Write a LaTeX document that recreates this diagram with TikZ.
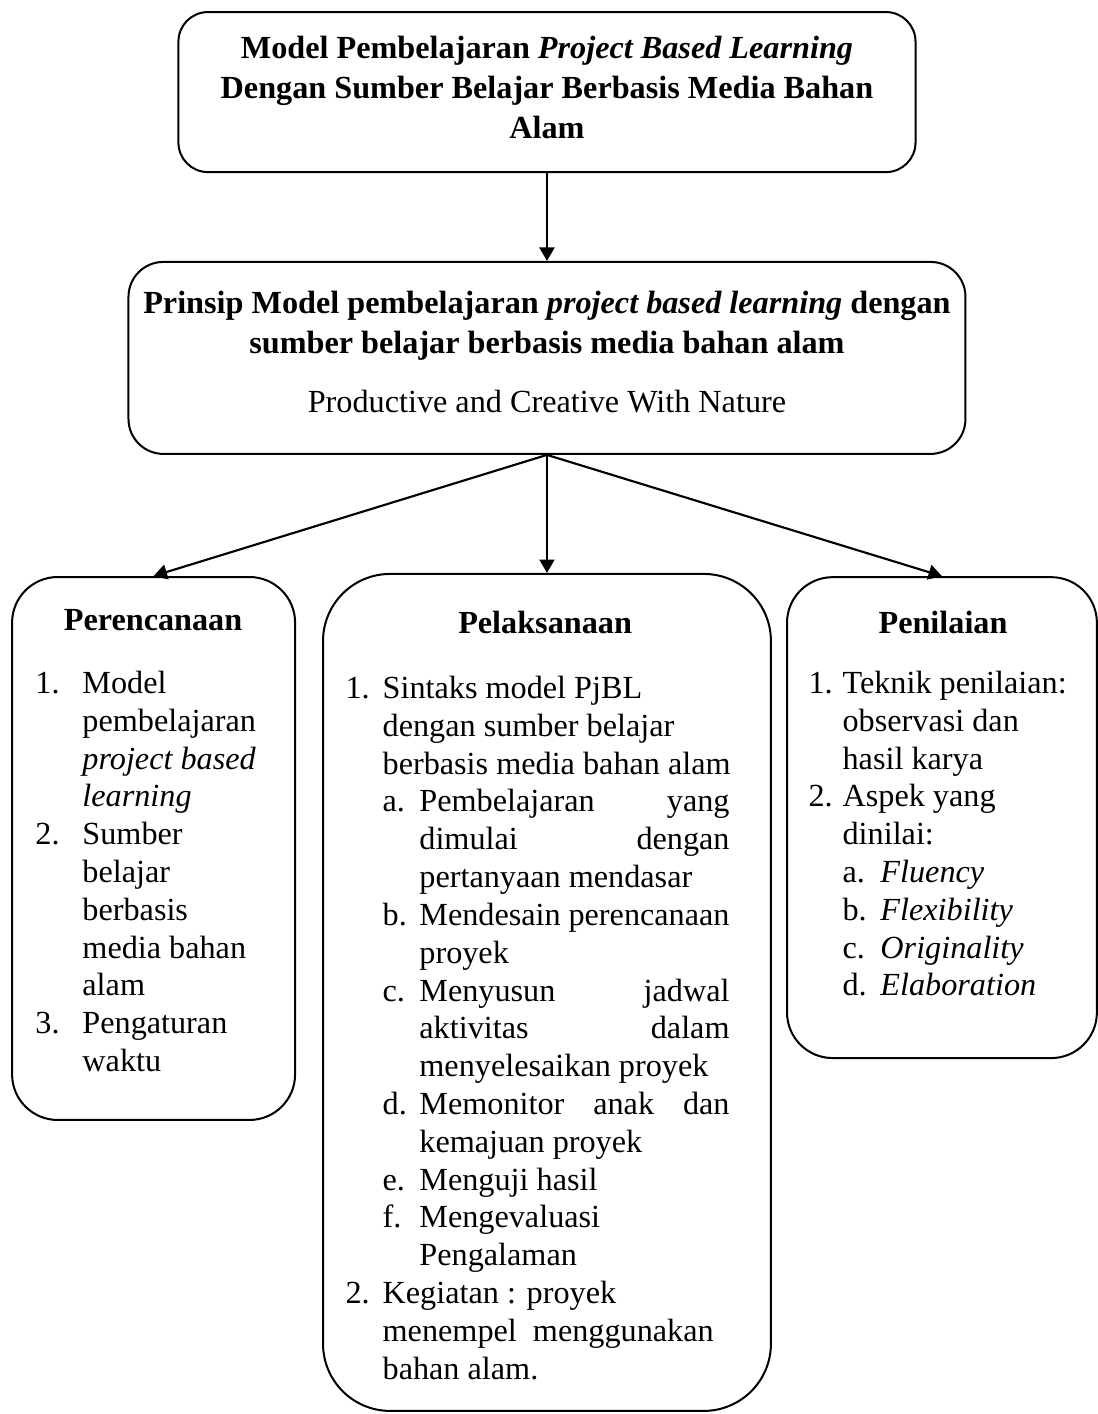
\documentclass[tikz,border=0pt]{standalone}
\usepackage{fontspec}
\setmainfont{Liberation Serif}
\usetikzlibrary{arrows.meta, positioning}
\tikzset{roundbox/.style={draw=black, line width=0.75pt, rounded corners=#1, inner sep=0pt},
flowarrow/.style={-{Triangle[length=5pt, width=5.6pt]}, line width=0.8pt}}
\newcommand{\lbl}[2]{\makebox[#1][l]{#2}}
\newcommand{\jline}[1]{\makebox[115.5pt][s]{#1}}

\begin{document}
\begin{tikzpicture}[
                line join=bevel,
                titletext/.style={inner sep=0pt, font=\fontsize{12}{14.9}\selectfont\bfseries},
                plaintext/.style={inner sep=0pt, font=\fontsize{12}{14.08}\selectfont},
                listtext/.style={anchor=north west, align=left, inner sep=0pt, font=\fontsize{12}{14.08}\selectfont}
            ]
                \useasboundingbox (0pt, 0pt) rectangle (408.9pt, 526.6pt);

                % Boxes
                \node[roundbox=11pt, minimum width=274.5pt, minimum height=59.6pt] (model) at (203.7pt, 492.3pt) {};
                \node[roundbox=13pt, minimum width=311.7pt, minimum height=71.5pt] (prinsip) at (203.7pt, 393.3pt) {};
                \node[roundbox=17pt, minimum width=105.4pt, minimum height=202.2pt] (plan) at (57.2pt, 210.6pt) {};
                \node[roundbox=25pt, minimum width=166.8pt, minimum height=311.7pt] (exec) at (203.7pt, 157.0pt) {};
                \node[roundbox=17pt, minimum width=115.4pt, minimum height=179.1pt] (eval) at (350.8pt, 222.1pt) {};

                % Texts
                \node[titletext, align=center, anchor=north] (model title) at (203.7pt, 515.4pt) {\strut Model Pembelajaran \textit{Project Based Learning}\\ Dengan Sumber Belajar Berbasis Media Bahan\\ Alam};
                \node[titletext, align=center, anchor=north] (prinsip title) at (203.7pt, 420.5pt) {\strut Prinsip Model pembelajaran \textit{project based learning} dengan\\ sumber belajar berbasis media bahan alam};
                \node[plaintext, anchor=base] (prinsip motto) at (203.7pt, 372.9pt) {Productive and Creative With Nature};

                \node[titletext, anchor=base] (plan title) at (57.0pt, 291.6pt) {Perencanaan};
                \node[titletext, anchor=base] (exec title) at (203.0pt, 290.8pt) {Pelaksanaan};
                \node[titletext, anchor=base] (eval title) at (351.2pt, 290.8pt) {Penilaian};

                \node[listtext] (plan list) at (13.0pt, 278.4pt) {\strut\lbl{17.5pt}{1.}Model\\
\lbl{17.5pt}{}pembelajaran\\
\lbl{17.5pt}{}\textit{project based}\\
\lbl{17.5pt}{}\textit{learning}\\
\lbl{17.5pt}{2.}Sumber\\
\lbl{17.5pt}{}belajar\\
\lbl{17.5pt}{}berbasis\\
\lbl{17.5pt}{}media bahan\\
\lbl{17.5pt}{}alam\\
\lbl{17.5pt}{3.}Pengaturan\\
\lbl{17.5pt}{}waktu};

                \node[listtext] (exec list) at (128.5pt, 276.5pt) {\strut\lbl{13.8pt}{1.}Sintaks model PjBL\\
\lbl{13.8pt}{}dengan sumber belajar\\
\lbl{13.8pt}{}berbasis media bahan alam\\
\lbl{13.8pt}{}\lbl{13.7pt}{a.}\jline{Pembelajaran yang}\\
\lbl{27.5pt}{}\jline{dimulai dengan}\\
\lbl{27.5pt}{}pertanyaan mendasar\\
\lbl{13.8pt}{}\lbl{13.7pt}{b.}\jline{Mendesain perencanaan}\\
\lbl{27.5pt}{}proyek\\
\lbl{13.8pt}{}\lbl{13.7pt}{c.}\jline{Menyusun jadwal}\\
\lbl{27.5pt}{}\jline{aktivitas dalam}\\
\lbl{27.5pt}{}menyelesaikan proyek\\
\lbl{13.8pt}{}\lbl{13.7pt}{d.}\jline{Memonitor anak dan}\\
\lbl{27.5pt}{}kemajuan proyek\\
\lbl{13.8pt}{}\lbl{13.7pt}{e.}Menguji hasil\\
\lbl{13.8pt}{}\lbl{13.7pt}{f.}Mengevaluasi\\
\lbl{27.5pt}{}Pengalaman\\
\lbl{13.8pt}{2.}Kegiatan : proyek\\
\lbl{13.8pt}{}menempel\ \ menggunakan\\
\lbl{13.8pt}{}bahan alam.};

                \node[listtext] (eval list) at (300.9pt, 278.4pt) {\strut\lbl{12.7pt}{1.}Teknik penilaian:\\
\lbl{12.7pt}{}observasi dan\\
\lbl{12.7pt}{}hasil karya\\
\lbl{12.7pt}{2.}Aspek yang\\
\lbl{12.7pt}{}dinilai:\\
\lbl{12.7pt}{}\lbl{14.1pt}{a.}\textit{Fluency}\\
\lbl{12.7pt}{}\lbl{14.1pt}{b.}\textit{Flexibility}\\
\lbl{12.7pt}{}\lbl{14.1pt}{c.}\textit{Originality}\\
\lbl{12.7pt}{}\lbl{14.1pt}{d.}\textit{Elaboration}};

                % Arrows
                \draw[flowarrow] (model) -- (prinsip);
                \draw[flowarrow] (prinsip.south) -- (plan.north);
                \draw[flowarrow] (prinsip.south) -- (exec.north);
                \draw[flowarrow] (prinsip.south) -- (eval.north);
            \end{tikzpicture}
\end{document}
